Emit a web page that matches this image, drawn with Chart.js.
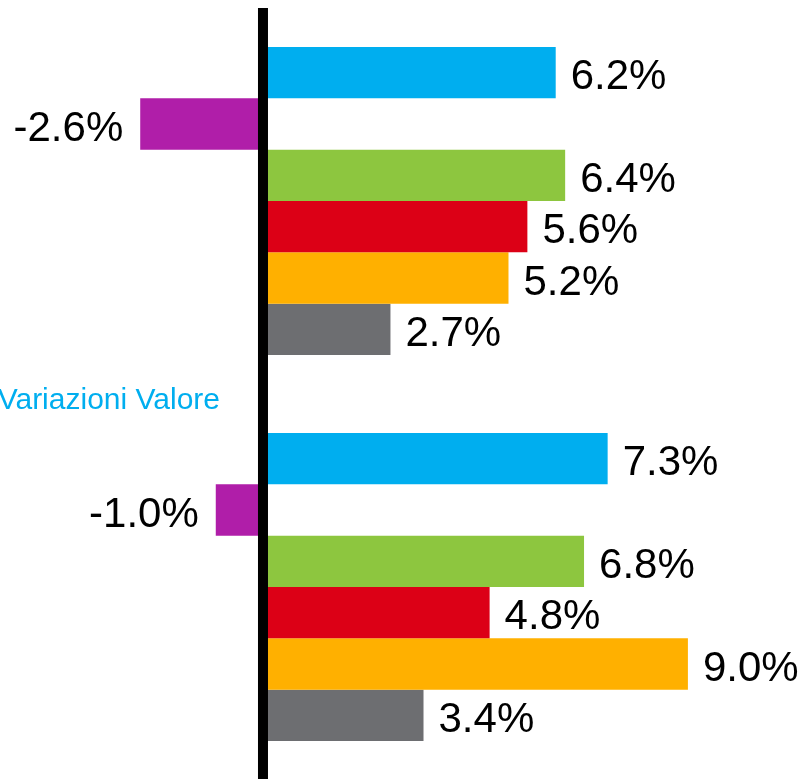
<!DOCTYPE html>
<html>
<head>
<meta charset="utf-8">
<script src="https://cdn.jsdelivr.net/npm/chart.js@4"></script>
<style>
  html, body { margin: 0; padding: 0; background: #fff; overflow: hidden; }
  #wrap { width: 805px; height: 780px; }
</style>
</head>
<body>
<div id="wrap"><canvas id="chart" width="805" height="780"></canvas></div>
<script>
// Chart data
const categories = ['Periodo 1', 'Periodo 2'];
const seriesNames = ['Serie 1', 'Serie 2', 'Serie 3', 'Serie 4', 'Serie 5', 'Serie 6'];
const blueValues = [6.2, 7.3];
const magentaValues = [-2.6, -1.0];
const greenValues = [6.4, 6.8];
const redValues = [5.6, 4.8];
const orangeValues = [5.2, 9.0];
const greyValues = [2.7, 3.4];
const axisTitle = 'Variazioni Valore';

const colors = ['#00AEEF', '#B01EA9', '#8DC63F', '#DC0016', '#FFB000', '#6D6E71'];
const allValues = [blueValues, magentaValues, greenValues, redValues, orangeValues, greyValues];

// Zero line, value labels and the side title
const overlayPlugin = {
    id: 'overlay',
    afterDatasetsDraw(chart) {
        const ctx = chart.ctx;
        const area = chart.chartArea;
        const x0 = chart.scales.x.getPixelForValue(0);

        // labels next to every bar
        ctx.save();
        ctx.fillStyle = '#000';
        ctx.font = '42px "Liberation Sans", Arial, sans-serif';
        ctx.textBaseline = 'middle';
        chart.data.datasets.forEach((ds, i) => {
            const meta = chart.getDatasetMeta(i);
            meta.data.forEach((bar, j) => {
                const v = ds.data[j];
                const text = v.toFixed(1) + '%';
                if (v >= 0) {
                    ctx.textAlign = 'left';
                    ctx.fillText(text, bar.x + 15, bar.y + 5);
                } else {
                    ctx.textAlign = 'right';
                    ctx.fillText(text, bar.x - 17, bar.y + 5);
                }
            });
        });
        ctx.restore();

        // thick zero line
        ctx.save();
        ctx.fillStyle = '#000';
        ctx.fillRect(x0 - 5, area.top, 10, chart.height - area.top);
        ctx.restore();

        // title on the left
        ctx.save();
        ctx.fillStyle = '#00AEEF';
        ctx.font = '30px "Liberation Sans", Arial, sans-serif';
        ctx.textAlign = 'right';
        ctx.textBaseline = 'alphabetic';
        ctx.fillText(axisTitle, 220, 409);
        ctx.restore();
    }
};

const ctx = document.getElementById('chart').getContext('2d');
new Chart(ctx, {
    type: 'bar',
    data: {
        labels: categories,
        datasets: allValues.map((vals, i) => ({
            label: seriesNames[i],
            data: vals,
            backgroundColor: colors[i],
            borderWidth: 0,
            barPercentage: 1,
            categoryPercentage: 0.798
        }))
    },
    options: {
        indexAxis: 'y',
        responsive: false,
        animation: false,
        devicePixelRatio: 1,
        layout: { padding: { top: 8, left: 0, right: 0, bottom: 0 } },
        scales: {
            x: { display: false, min: -5.57, max: 11.48 },
            y: { display: false }
        },
        plugins: {
            legend: { display: false },
            tooltip: { enabled: false },
            title: { display: false }
        }
    },
    plugins: [overlayPlugin]
});
</script>
</body>
</html>
